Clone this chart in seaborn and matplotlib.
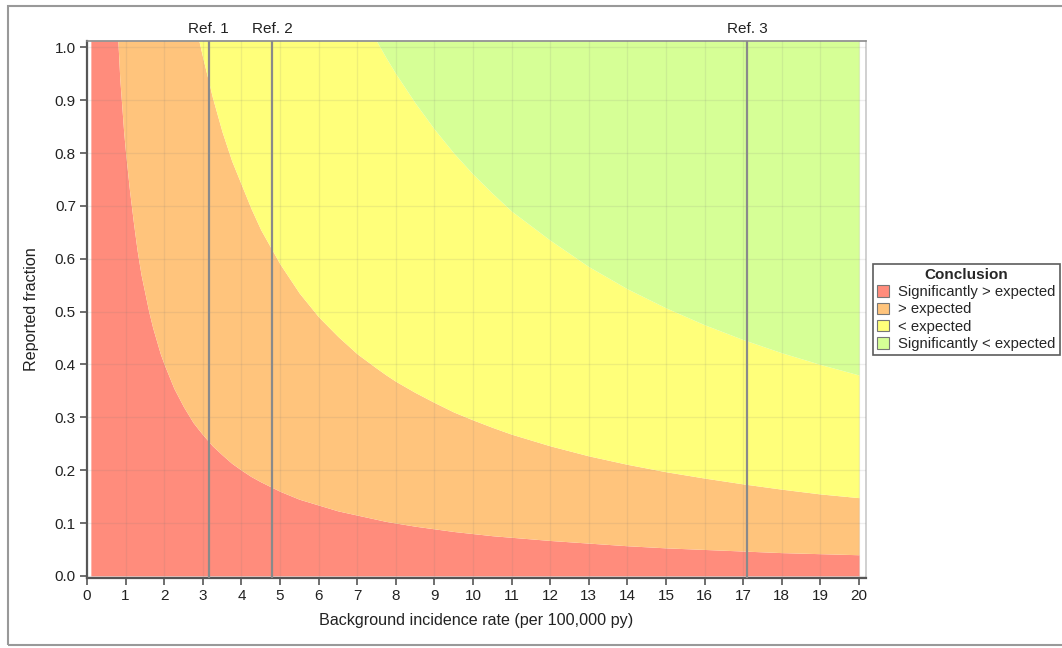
import matplotlib
matplotlib.use("Agg")
import matplotlib.pyplot as plt
from matplotlib.patches import Patch, Rectangle
import seaborn as sns
import numpy as np

# boundary curves (top of plot = 1.012)
x_vals = [0.1, 0.5, 0.8, 0.85, 0.9, 0.95, 1.0, 1.1, 1.2, 1.3, 1.4, 1.5, 1.6, 1.7, 1.8, 1.9, 2.0,
          2.25, 2.5, 2.75, 2.9, 3.0, 3.25, 3.5, 3.75, 4.0, 4.25, 4.5,
          5.0, 5.5, 6.0, 6.5, 7.0, 7.5, 7.75, 8.0, 8.5, 9.0, 9.5, 10.0, 10.5, 11.0,
          12.0, 13.0, 14.0, 15.0, 16.0, 17.0, 18.0, 19.0, 20.0]
sig_high = [1.012, 1.012, 1.012, 0.94, 0.89, 0.84, 0.80, 0.73, 0.67, 0.615, 0.57, 0.535, 0.50, 0.47, 0.445, 0.42, 0.40,
            0.355, 0.32, 0.29, 0.276, 0.267, 0.246, 0.229, 0.213, 0.20, 0.188, 0.178,
            0.16, 0.145, 0.134, 0.123, 0.115, 0.107, 0.103, 0.10, 0.094, 0.089, 0.084, 0.08, 0.076, 0.073,
            0.067, 0.062, 0.057, 0.053, 0.05, 0.047, 0.044, 0.042, 0.04]
above = [1.012, 1.012, 1.012, 1.012, 1.012, 1.012, 1.012, 1.012, 1.012, 1.012, 1.012, 1.012, 1.012, 1.012, 1.012, 1.012, 1.012,
         1.012, 1.012, 1.012, 1.012, 0.98, 0.905, 0.84, 0.785, 0.74, 0.695, 0.655,
         0.59, 0.535, 0.49, 0.453, 0.42, 0.393, 0.38, 0.368, 0.347, 0.328, 0.31, 0.295, 0.281, 0.268,
         0.246, 0.227, 0.211, 0.197, 0.185, 0.174, 0.164, 0.155, 0.148]
below = [1.012, 1.012, 1.012, 1.012, 1.012, 1.012, 1.012, 1.012, 1.012, 1.012, 1.012, 1.012, 1.012, 1.012, 1.012, 1.012, 1.012,
         1.012, 1.012, 1.012, 1.012, 1.012, 1.012, 1.012, 1.012, 1.012, 1.012, 1.012,
         1.012, 1.012, 1.012, 1.012, 1.012, 1.012, 0.98, 0.95, 0.895, 0.845, 0.80, 0.76, 0.724, 0.69,
         0.635, 0.585, 0.543, 0.507, 0.475, 0.447, 0.422, 0.40, 0.38]
top = 1.012

ref_x = [3.15, 4.8, 17.1]
ref_labels = ["Ref. 1", "Ref. 2", "Ref. 3"]

categories = ["Significantly > expected", "> expected", "< expected", "Significantly < expected"]
colors = ["#FF8C7C", "#FFC47C", "#FFFF7A", "#D6FF96"]

sns.set_theme(style="ticks")
plt.rcParams["font.family"] = ["Liberation Sans", "DejaVu Sans"]

fig = plt.figure(figsize=(10.62, 6.48), dpi=100)
ax = fig.add_axes([87 / 1062, 1 - 578 / 648, (866 - 87) / 1062, (578 - 41) / 648])

x = np.array(x_vals)
ax.fill_between(x, 0, sig_high, color=colors[0], lw=0, zorder=1)
ax.fill_between(x, sig_high, above, color=colors[1], lw=0, zorder=1)
ax.fill_between(x, above, below, color=colors[2], lw=0, zorder=1)
ax.fill_between(x, below, top, color=colors[3], lw=0, zorder=1)

ax.set_xlim(0, 20.18)
ax.set_ylim(-0.004, 1.012)
ax.set_xticks(range(0, 21))
ax.set_yticks(np.round(np.arange(0, 1.01, 0.1), 1))
ax.set_yticklabels([f"{v:.1f}" for v in np.arange(0, 1.01, 0.1)])
ax.grid(True, color="#777777", alpha=0.12, lw=0.9, zorder=2)
ax.set_axisbelow(False)

for rx, lab in zip(ref_x, ref_labels):
    ax.axvline(rx, color="#8a8a8a", lw=1.6, zorder=3)
    ax.text(rx, 1.021, lab, ha="center", va="bottom", fontsize=11, color="#222222")

ax.tick_params(axis="both", direction="out", length=5, width=1.2, color="#555555",
               labelsize=11, labelcolor="#222222", pad=3)
for side in ["left", "bottom"]:
    ax.spines[side].set_color("#555555")
    ax.spines[side].set_linewidth(1.6)
ax.spines["top"].set_color("#8a8a8a")
ax.spines["top"].set_linewidth(1.2)
ax.spines["right"].set_color("#c8c8c8")
ax.spines["right"].set_linewidth(1.2)

ax.set_xlabel("Background incidence rate (per 100,000 py)", fontsize=11.6, color="#222222", labelpad=7)
ax.set_ylabel("Reported fraction", fontsize=11.6, color="#222222", labelpad=11)

handles = [Patch(facecolor=c, edgecolor="#777777", lw=0.8) for c in colors]
leg = ax.legend(handles, categories, title="Conclusion", loc="center left",
                bbox_to_anchor=(1.009, 0.5), fontsize=10.7, title_fontsize=11,
                frameon=True, fancybox=False, edgecolor="#333333",
                handlelength=0.8, handleheight=0.8, handletextpad=0.6,
                borderpad=0.3, labelspacing=0.22, borderaxespad=0)
leg.get_title().set_fontweight("bold")
leg.get_frame().set_linewidth(1.2)

fig.patches.append(Rectangle((8 / 1062, 3 / 648), 1.2, 639 / 648, transform=fig.transFigure,
                             fill=False, edgecolor="#999999", lw=1.5))

fig.savefig("out.png", dpi=100)
